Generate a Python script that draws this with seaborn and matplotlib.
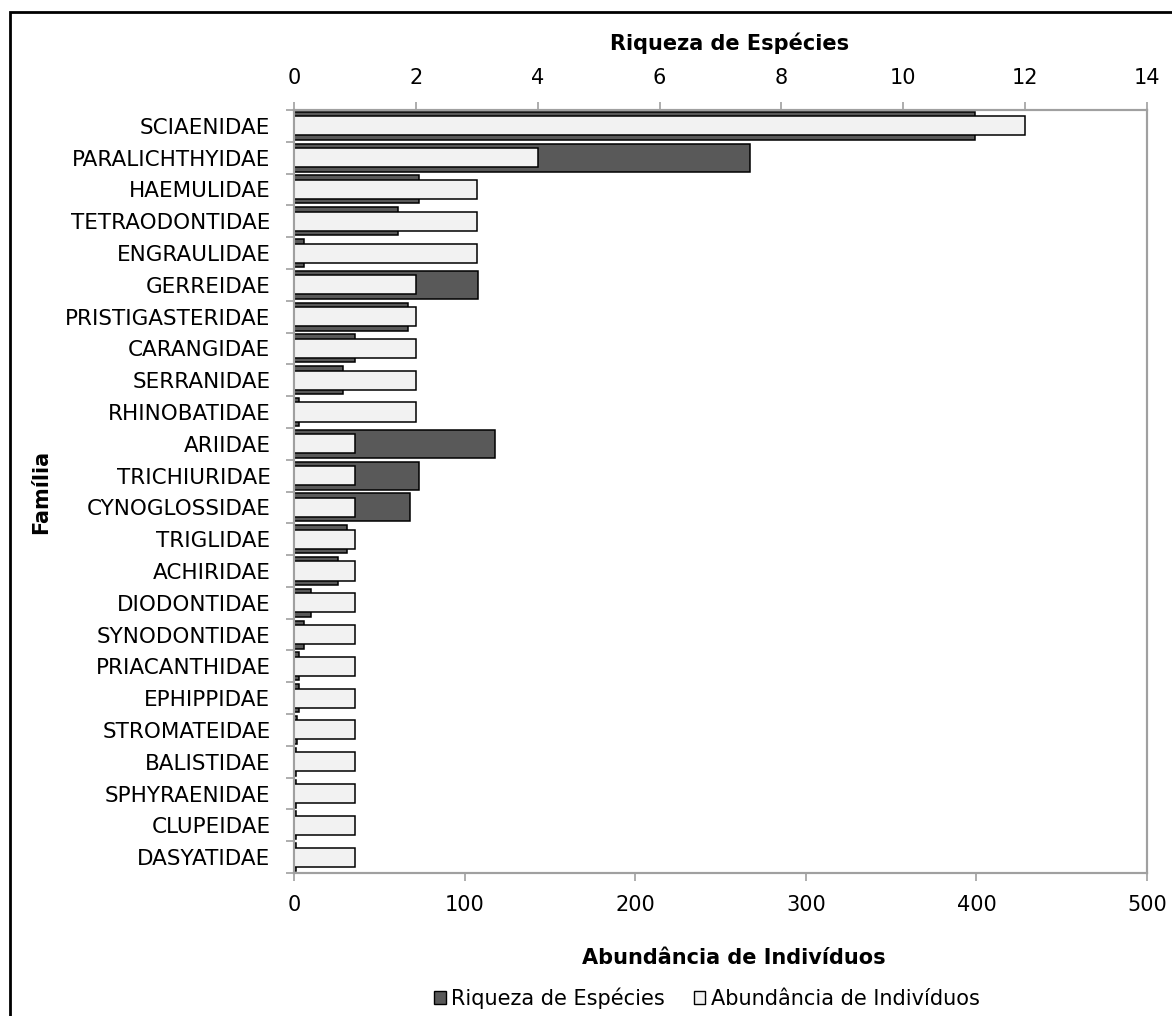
import matplotlib
matplotlib.use("Agg")
import numpy as np
import pandas as pd
import matplotlib.pyplot as plt
import seaborn as sns
from matplotlib.patches import Patch, Rectangle
from matplotlib.ticker import FixedLocator

# Families, ordered as listed on the vertical axis
familias = [
    "SCIAENIDAE", "PARALICHTHYIDAE", "HAEMULIDAE", "TETRAODONTIDAE",
    "ENGRAULIDAE", "GERREIDAE", "PRISTIGASTERIDAE", "CARANGIDAE",
    "SERRANIDAE", "RHINOBATIDAE", "ARIIDAE", "TRICHIURIDAE",
    "CYNOGLOSSIDAE", "TRIGLIDAE", "ACHIRIDAE", "DIODONTIDAE",
    "SYNODONTIDAE", "PRIACANTHIDAE", "EPHIPPIDAE", "STROMATEIDAE",
    "BALISTIDAE", "SPHYRAENIDAE", "CLUPEIDAE", "DASYATIDAE",
]
# Dark bars (bottom axis, 0-500)
abundancia = [399, 267, 73, 61, 6, 108, 67, 36, 29, 3, 118, 73,
              68, 31, 26, 10, 6, 3, 3, 2, 1, 1, 1, 1]
# Light bars (top axis, 0-14)
riqueza = [12, 4, 3, 3, 3, 2, 2, 2, 2, 2, 1, 1,
           1, 1, 1, 1, 1, 1, 1, 1, 1, 1, 1, 1]

legend_labels = ["Riqueza de Espécies", "Abundância de Indivíduos"]

sns.set_style("white")
plt.rcParams["font.family"] = ["DejaVu Sans"]
plt.rcParams["text.color"] = "black"

df = pd.DataFrame({"Familia": familias, "Abundancia": abundancia,
                   "Riqueza": riqueza})

W, H = 1172, 1016
fig = plt.figure(figsize=(W / 100, H / 100), dpi=100)
fig.patch.set_facecolor("white")

left, right, top, bottom = 294, 1147, 110, 873
ax = fig.add_axes([left / W, 1 - bottom / H, (right - left) / W,
                   (bottom - top) / H])

dark = "#595959"
light = "#f2f2f2"
axis_gray = "#a0a0a0"

sns.barplot(data=df, x="Abundancia", y="Familia", order=familias,
            orient="h", color=dark, saturation=1, width=0.88,
            edgecolor="black", linewidth=1.1, errorbar=None, ax=ax)

ax2 = ax.twiny()
sns.barplot(data=df, x="Riqueza", y="Familia", order=familias,
            orient="h", color=light, saturation=1, width=0.6,
            edgecolor="black", linewidth=1.1, errorbar=None, ax=ax2)

ax.set_xlim(0, 500)
ax2.set_xlim(0, 14)
ax.set_ylim(len(familias) - 0.5, -0.5)

ax.set_xticks(np.arange(0, 501, 100))
ax2.set_xticks(np.arange(0, 15, 2))

ax.set_yticks(range(len(familias)))
ax.set_yticklabels(familias)
ax.yaxis.set_minor_locator(FixedLocator(np.arange(-0.5, len(familias), 1)))

ax.tick_params(axis="y", which="major", left=False, length=0, pad=17,
               labelsize=15.5, labelcolor="black")
ax.tick_params(axis="y", which="minor", left=True, length=6,
               width=1.2, color=axis_gray, direction="out")
ax.tick_params(axis="x", bottom=True, length=6, width=1.2,
               color=axis_gray, direction="out", labelsize=15, pad=10,
               labelcolor="black")
ax2.tick_params(axis="x", top=True, length=6, width=1.2,
                color=axis_gray, direction="out", labelsize=15, pad=10,
                labelcolor="black")

for a in (ax, ax2):
    for s in a.spines.values():
        s.set_color(axis_gray)
        s.set_linewidth(1.5)
    a.grid(False)

ax.set_xlabel("")
ax.set_ylabel("")
ax2.set_xlabel("")
ax2.set_ylabel("")

fig.text(730 / W, 1 - 43 / H, "Riqueza de Espécies", ha="center",
         va="center", fontsize=15, fontweight="bold", color="black")
fig.text(734 / W, 1 - 958 / H, "Abundância de Indivíduos", ha="center",
         va="center", fontsize=15, fontweight="bold", color="black")
fig.text(41 / W, 1 - 492 / H, "Família", ha="center", va="center",
         rotation=90, fontsize=15, fontweight="bold", color="black")

handles = [
    Patch(facecolor=dark, edgecolor="black", linewidth=1.0,
          label=legend_labels[0]),
    Patch(facecolor=light, edgecolor="black", linewidth=1.0,
          label=legend_labels[1]),
]
leg = fig.legend(handles=handles, loc="center",
                 bbox_to_anchor=(707 / W, 1 - 998 / H), ncol=2,
                 frameon=False, fontsize=15, handlelength=0.55,
                 handleheight=0.55, handletextpad=0.25, columnspacing=1.4,
                 borderpad=0)
for t in leg.get_texts():
    t.set_color("black")

# outer chart frame
fig.patches.append(Rectangle((10 / W, -0.05), 1.2, 1 - 12 / H + 0.05,
                             transform=fig.transFigure, fill=False,
                             edgecolor="black", linewidth=2.0,
                             clip_on=False))

fig.savefig("out.png", dpi=100)
